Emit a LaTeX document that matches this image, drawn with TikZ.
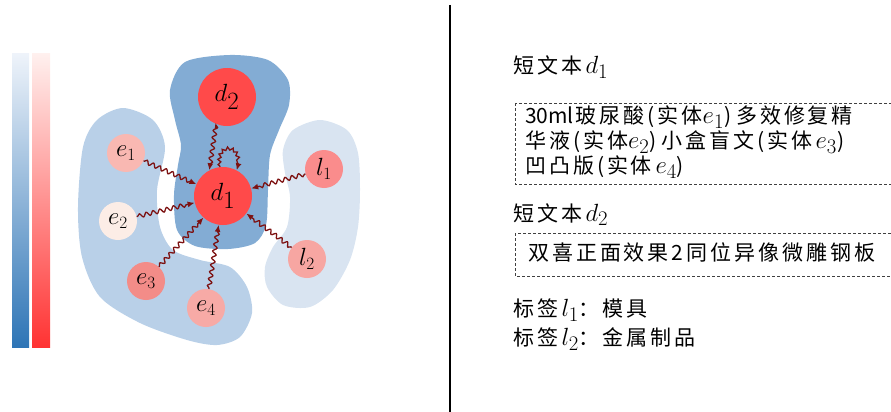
\documentclass[tikz,border=0pt]{standalone}
\usepackage{fontspec}
\newfontfamily\cjk[LetterSpace=14]{Noto Sans CJK SC}
\newfontfamily\cjkn{Noto Sans CJK SC}
\usetikzlibrary{decorations.pathmorphing,arrows.meta}
\newcommand\mth[1]{{\fontsize{29}{22}\selectfont$\smash{#1}$}}
\definecolor{blobmid}{RGB}{131,172,212}
\definecolor{blobleft}{RGB}{185,208,232}
\definecolor{blobright}{RGB}{217,228,241}
\definecolor{dred}{RGB}{255,74,74}
\definecolor{ce1}{RGB}{249,184,178}
\definecolor{ce2}{RGB}{252,237,230}
\definecolor{ce3}{RGB}{243,140,136}
\definecolor{ce4}{RGB}{247,170,166}
\definecolor{cl1}{RGB}{250,140,140}
\definecolor{cl2}{RGB}{247,166,162}
\definecolor{arrowred}{RGB}{125,18,18}
\definecolor{barbluetop}{RGB}{238,243,250}
\definecolor{barbluebot}{RGB}{46,117,182}
\definecolor{barredtop}{RGB}{255,240,238}
\definecolor{barredbot}{RGB}{255,51,51}
\tikzset{
  bignode/.style={circle, fill=dred, minimum size=58pt, inner sep=0pt, font=\fontsize{33}{33}\selectfont},
  smallnode/.style={circle, minimum size=38pt, inner sep=0pt, font=\fontsize{23}{23}\selectfont},
  wavy/.style={draw=arrowred, line width=1.3pt, -{Latex[length=7pt,width=6pt]},
    decorate, decoration={snake, amplitude=2pt, segment length=7pt, post length=6pt, pre length=1pt}},
  txt/.style={anchor=base west, inner sep=0pt, text height=16pt, text depth=2pt, font=\cjk\fontsize{21}{21}\selectfont},
  dbox/.style={draw=black!75, line width=0.8pt, dash pattern=on 3pt off 2pt}
}
\begin{document}
\begin{tikzpicture}[x=1pt,y=-1pt]
\useasboundingbox (0,0) rectangle (891,412);
% colour bars
\shade[top color=barbluetop, bottom color=barbluebot] (12,54) rectangle (29,347);
\shade[top color=barredtop, bottom color=barredbot] (32,54) rectangle (50,347);
% blobs
\fill[blobleft] plot[smooth cycle] coordinates {(123,108) (153,120) (165,147) (157,190) (160,227) (173,250) (200,260) (230,267) (247,287) (252,313) (240,337) (217,345) (187,340) (140,323) (100,297) (82,257) (78,207) (83,147) (97,120)};
\fill[blobright] plot[smooth cycle] coordinates {(320,120) (347,130) (358,153) (360,190) (358,227) (350,260) (333,290) (310,307) (283,305) (267,287) (265,267) (273,247) (287,227) (290,197) (285,173) (283,150) (293,130)};
\fill[blobmid] plot[smooth cycle] coordinates {(230,55) (268,60) (288,80) (289,105) (279,130) (270,155) (268,190) (266,225) (255,243) (228,249) (195,246) (177,230) (174,195) (178,165) (181,145) (175,120) (170,90) (185,62)};
% nodes
\node[bignode] (d2) at (227,97) {$d_2$};
\node[bignode] (d1) at (223,196) {$d_1$};
\node[smallnode, fill=ce1] (e1) at (126,153) {$e_1$};
\node[smallnode, fill=ce2] (e2) at (118,221) {$e_2$};
\node[smallnode, fill=ce3] (e3) at (146,281) {$e_3$};
\node[smallnode, fill=ce4] (e4) at (206,308) {$e_4$};
\node[smallnode, fill=cl1] (l1) at (324,169) {$l_1$};
\node[smallnode, fill=cl2] (l2) at (307,259) {$l_2$};
% connectors
\draw[wavy] (e1) -- (d1);
\draw[wavy] (e2) -- (d1);
\draw[wavy] (e3) -- (d1);
\draw[wavy] (e4) -- (d1);
\draw[wavy] (l1) -- (d1);
\draw[wavy] (l2) -- (d1);
\draw[wavy, shorten <=5pt] (d2.248) -- (d1.118);
\draw[wavy, decoration={snake, amplitude=1.5pt, segment length=5pt, post length=5pt, pre length=1pt}] (d1.96) .. controls +(-100:26) and +(-70:26) .. (d1.62);
% divider
\draw[line width=2pt] (450,5) -- (450,412);
% right-hand text
\node[txt] (h1) at (513,74) {短文本\,\mth{d_1}};
\draw[dbox] (515,103) rectangle (905,184);
\node[txt] (t1) at (525,123.5) {{\cjkn 30ml}\hspace{2pt}玻尿酸(实体\mth{e_1})\hspace{5pt}多效修复精};
\node[txt] (t2) at (525,148.5) {华液(实体\mth{e_2})\hspace{5pt}小盒盲文(实体\,\mth{e_3})};
\node[txt] (t3) at (525,173.5) {凹凸版(实体\,\mth{e_4})};
\node[txt] (h2) at (513,221) {短文本\,\mth{d_2}};
\draw[dbox] (515,233) rectangle (905,276);
\node[txt] (t4) at (528,260.5) {双喜正面效果2同位异像微雕钢板};
\node[txt] (k1) at (513,316.5) {标签\,\mth{l_1}：模具};
\node[txt] (k2) at (513,345.5) {标签\,\mth{l_2}：金属制品};
\end{tikzpicture}
\end{document}
